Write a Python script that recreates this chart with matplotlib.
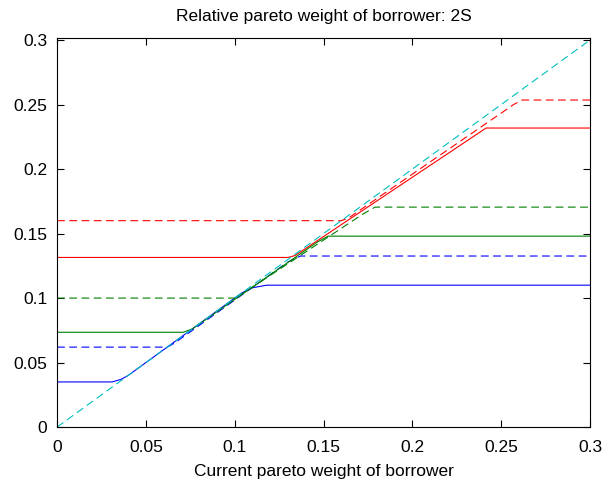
import matplotlib
matplotlib.use("Agg")
import matplotlib.pyplot as plt

plt.rcParams["font.family"] = ["Liberation Sans", "DejaVu Sans"]

# Current weight -> relative weight, (x, y) vertices for each policy curve
blue_x = [0.0, 0.031, 0.036, 0.040, 0.104, 0.110, 0.118, 0.3]
blue_y = [0.035, 0.035, 0.037, 0.040, 0.104, 0.108, 0.110, 0.110]

blue_d_x = [0.0, 0.062, 0.066, 0.130, 0.137, 0.3]
blue_d_y = [0.062, 0.062, 0.065, 0.128, 0.1326, 0.1326]

green_x = [0.0, 0.071, 0.076, 0.146, 0.1525, 0.3]
green_y = [0.0735, 0.0735, 0.076, 0.143, 0.148, 0.148]

green_d_x = [0.0, 0.100, 0.104, 0.172, 0.179, 0.3]
green_d_y = [0.100, 0.100, 0.103, 0.165, 0.1705, 0.1705]

red_x = [0.0, 0.130, 0.134, 0.2415, 0.3]
red_y = [0.1315, 0.1315, 0.133, 0.2318, 0.2318]

red_d_x = [0.0, 0.160, 0.164, 0.257, 0.2617, 0.3]
red_d_y = [0.160, 0.160, 0.162, 0.250, 0.2535, 0.2535]

diag = [0.0, 0.3]

xticks = [0, 0.05, 0.1, 0.15, 0.2, 0.25, 0.3]
yticks = [0, 0.05, 0.1, 0.15, 0.2, 0.25, 0.3]
tick_labels = ["0", "0.05", "0.1", "0.15", "0.2", "0.25", "0.3"]

fig = plt.figure(figsize=(6.07, 4.87), dpi=100)
ax = fig.add_axes([0.094, 0.123, 0.878, 0.799])

lw = 0.8
dash = (0, (7, 4))
ax.plot(blue_x, blue_y, color="#0000ff", lw=lw)
ax.plot(blue_d_x, blue_d_y, color="#0000ff", lw=lw, linestyle=dash)
ax.plot(green_x, green_y, color="#008000", lw=lw)
ax.plot(green_d_x, green_d_y, color="#008000", lw=lw, linestyle=dash)
ax.plot(red_x, red_y, color="#ff0000", lw=lw)
ax.plot(red_d_x, red_d_y, color="#ff0000", lw=lw, linestyle=dash)
ax.plot(diag, diag, color="#00bfbf", lw=lw, linestyle=dash)

ax.set_xlim(0, 0.3)
ax.set_ylim(0, 0.3016)
ax.set_xticks(xticks)
ax.set_yticks(yticks)
ax.set_xticklabels(tick_labels)
ax.set_yticklabels(tick_labels)
ax.tick_params(direction="in", top=True, right=True, length=5, width=0.8,
               labelsize=12.5)
ax.tick_params(axis="x", pad=9)
ax.tick_params(axis="y", pad=7)
for s in ax.spines.values():
    s.set_linewidth(0.8)

ax.set_title("Relative pareto weight of borrower: 2S", fontsize=12.5, pad=12)
ax.set_xlabel("Current pareto weight of borrower", fontsize=12.5, labelpad=7)

fig.savefig("out.png", dpi=100)
